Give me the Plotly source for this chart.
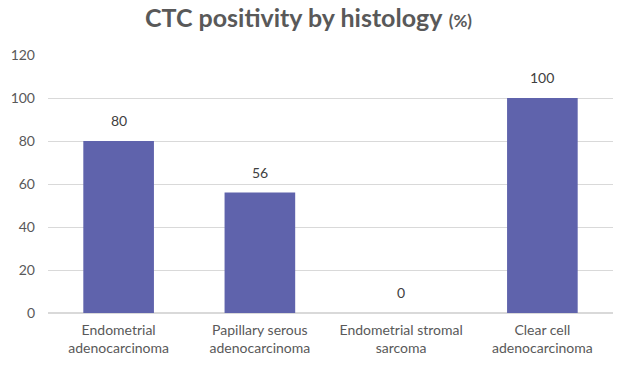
import plotly.graph_objects as go

categories = [
    "Endometrial<br>adenocarcinoma",
    "Papillary serous<br>adenocarcinoma",
    "Endometrial stromal<br>sarcoma",
    "Clear cell<br>adenocarcinoma",
]
positivity = [80, 56, 0, 100]
y_ticks = [0, 20, 40, 60, 80, 100, 120]

font_family = "Lato, 'Open Sans', sans-serif"

fig = go.Figure(
    go.Bar(
        x=categories,
        y=positivity,
        width=0.5,
        marker=dict(color="#5f63ac", line=dict(width=0)),
        cliponaxis=False,
    )
)

# value labels sit a little above each bar
for cat, val in zip(categories, positivity):
    fig.add_annotation(
        x=cat,
        y=val,
        text=str(val),
        showarrow=False,
        yanchor="bottom",
        yshift=10,
        font=dict(size=14, color="#404040", family=font_family),
    )

fig.update_layout(
    width=617,
    height=366,
    margin=dict(l=48, r=4, t=55, b=53),
    paper_bgcolor="white",
    plot_bgcolor="white",
    showlegend=False,
    title=dict(
        text="<b>CTC positivity by histology</b> <b><span style='font-size:17px'>(%)</span></b>",
        x=0.5,
        xanchor="center",
        y=0.95,
        yanchor="middle",
        font=dict(size=25, color="#595959", family=font_family),
    ),
    font=dict(family=font_family, color="#595959"),
)

fig.update_yaxes(
    range=[0, 120],
    tickvals=y_ticks,
    showgrid=True,
    gridcolor="#d9d9d9",
    gridwidth=1,
    zeroline=True,
    zerolinecolor="#d9d9d9",
    showline=False,
    ticks="",
    ticklabelstandoff=12,
    tickfont=dict(size=14, color="#595959"),
)

fig.update_xaxes(
    showgrid=False,
    showline=False,
    ticks="",
    tickangle=0,
    ticklabelstandoff=7,
    tickfont=dict(size=14, color="#595959"),
)

fig.write_html("out.html")
